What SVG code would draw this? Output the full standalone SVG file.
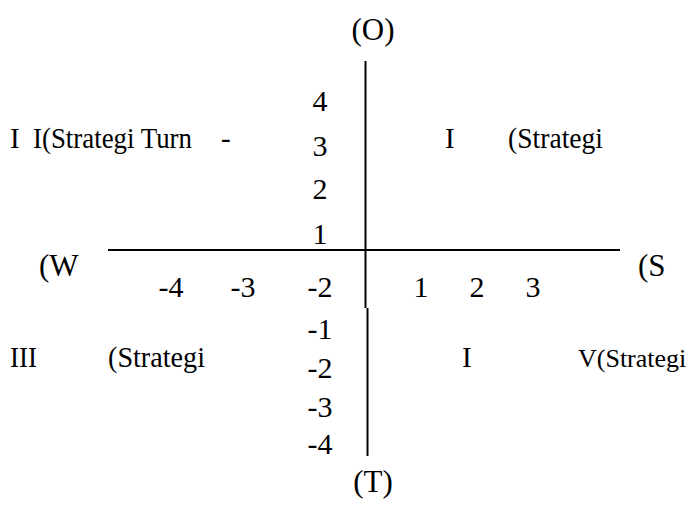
<svg xmlns="http://www.w3.org/2000/svg" width="691" height="505" viewBox="0 0 691 505">
<style>
text{font-family:"Liberation Serif","Times New Roman",serif;fill:#000}
.m{text-anchor:middle}
.ax{font-size:31px}
.tk{font-size:30px}
.q{font-size:29px}
.axis{stroke:#000;stroke-width:2;fill:none}
</style>
<rect width="691" height="505" fill="#fff"/>
<g id="connectors">
<line class="axis" x1="108" y1="250" x2="620" y2="250"/>
<line class="axis" x1="365.5" y1="61" x2="365.5" y2="308"/>
<line class="axis" x1="367.5" y1="308" x2="367.5" y2="456"/>
</g>
<g id="axis-labels">
<text class="ax m" x="373" y="40">(O)</text>
<text class="ax m" x="373" y="492">(T)</text>
<text class="ax" x="39" y="276">(W</text>
<text class="ax" x="638" y="276">(S</text>
</g>
<g id="y-ticks">
<text class="tk m" x="320" y="111">4</text>
<text class="tk m" x="320" y="156">3</text>
<text class="tk m" x="320" y="199">2</text>
<text class="tk m" x="320" y="244">1</text>
<text class="tk m" x="320" y="339">-1</text>
<text class="tk m" x="320" y="378">-2</text>
<text class="tk m" x="320" y="417">-3</text>
<text class="tk m" x="320" y="454">-4</text>
</g>
<g id="x-ticks">
<text class="tk m" x="171" y="297">-4</text>
<text class="tk m" x="243" y="297">-3</text>
<text class="tk m" x="320" y="297">-2</text>
<text class="tk m" x="421" y="297">1</text>
<text class="tk m" x="477" y="297">2</text>
<text class="tk m" x="533" y="297">3</text>
</g>
<g id="q2">
<text class="q" x="10" y="148">I</text>
<text class="q" x="33" y="148" textLength="159" lengthAdjust="spacingAndGlyphs">I(Strategi Turn</text>
<text class="q" x="221" y="148">-</text>
</g>
<g id="q1">
<text class="q" x="445" y="148">I</text>
<text class="q" x="508" y="148" textLength="95" lengthAdjust="spacingAndGlyphs">(Strategi</text>
</g>
<g id="q3">
<text class="q" x="10" y="367" textLength="27" lengthAdjust="spacingAndGlyphs">III</text>
<text class="q" x="108" y="367" textLength="97" lengthAdjust="spacingAndGlyphs">(Strategi</text>
</g>
<g id="q4">
<text class="q" x="462" y="367">I</text>
<text x="578" y="367" font-size="26">V(Strategi</text>
</g>
</svg>
